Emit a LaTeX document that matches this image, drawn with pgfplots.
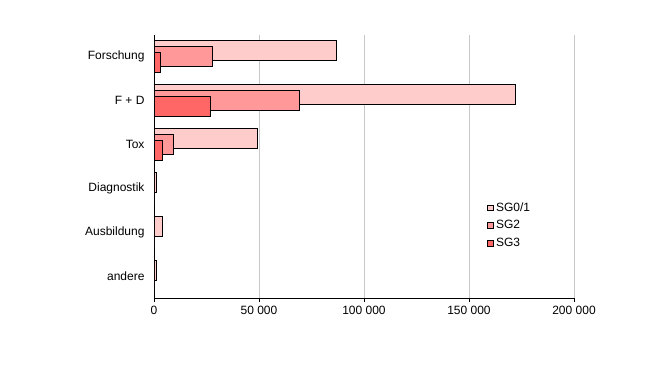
\documentclass[border=0pt]{standalone}
\usepackage{pgfplots}
\pgfplotsset{compat=1.18}
\usepackage{fontspec}
\setmainfont{Liberation Sans}
\definecolor{cA}{HTML}{FFCCCC}
\definecolor{cB}{HTML}{FF9999}
\definecolor{cC}{HTML}{FF6666}
\definecolor{gridc}{HTML}{C8C8C8}
\begin{document}
\begin{tikzpicture}
\useasboundingbox (0,0) rectangle (660bp,378bp);
\begin{axis}[
  at={(154bp,80bp)}, anchor=south west,
  scale only axis, width=420bp, height=263.5bp,
  xbar, bar shift=0pt, bar width=0.455,
  xmin=0, xmax=200000, ymin=-0.5, ymax=5.5,
  y dir=reverse,
  axis x line*=bottom, axis y line*=left,
  axis line style={-, black, line width=0.8pt},
  xtick={0,50000,100000,150000,200000},
  xticklabels={0,50 000,100 000,150 000,200 000},
  scaled x ticks=false,
  ytick={0,1,2,3,4,5},
  yticklabels={Forschung,F + D,Tox,Diagnostik,Ausbildung,andere},
  minor ytick={-0.5,0.5,1.5,2.5,3.5,4.5,5.5},
  major tick length=4bp, minor tick length=4bp,
  tick align=outside,
  ytick style={draw=none},
  minor tick style={black, line width=0.8pt},
  xtick style={black, line width=0.8pt},
  xmajorgrids, major grid style={gridc, line width=0.8pt},
  tick label style={font=\fontsize{12bp}{14bp}\selectfont},
  yticklabel style={xshift=-2bp},
  xticklabel style={yshift=-1bp},
  legend style={at={(0.793,0.362)}, anchor=north west, draw=none, fill=none,
    font=\fontsize{12bp}{14bp}\selectfont, row sep=7.6bp,
    inner sep=0pt, nodes={inner xsep=2.6bp, inner ysep=0pt}, legend cell align=left},
  legend image code/.code={\draw[#1, draw=black, line width=0.6pt] (0bp,-2.8bp) rectangle (5.6bp,2.8bp);},
  every axis plot/.append style={draw=black, line width=0.8pt},
]
\addplot[fill=cA] coordinates {(87000,-0.137) (172000,0.863) (49000,1.863) (1000,2.863) (4000,3.863) (1000,4.863)};
\addplot[fill=cB] coordinates {(28000,0) (69000,1) (9000,2) (0,3) (0,4) (0,5)};
\addplot[fill=cC] coordinates {(3000,0.137) (27000,1.137) (4000,2.137) (0,3.137) (0,4.137) (0,5.137)};
\legend{SG0/1,SG2,SG3}
\end{axis}
\end{tikzpicture}
\end{document}
